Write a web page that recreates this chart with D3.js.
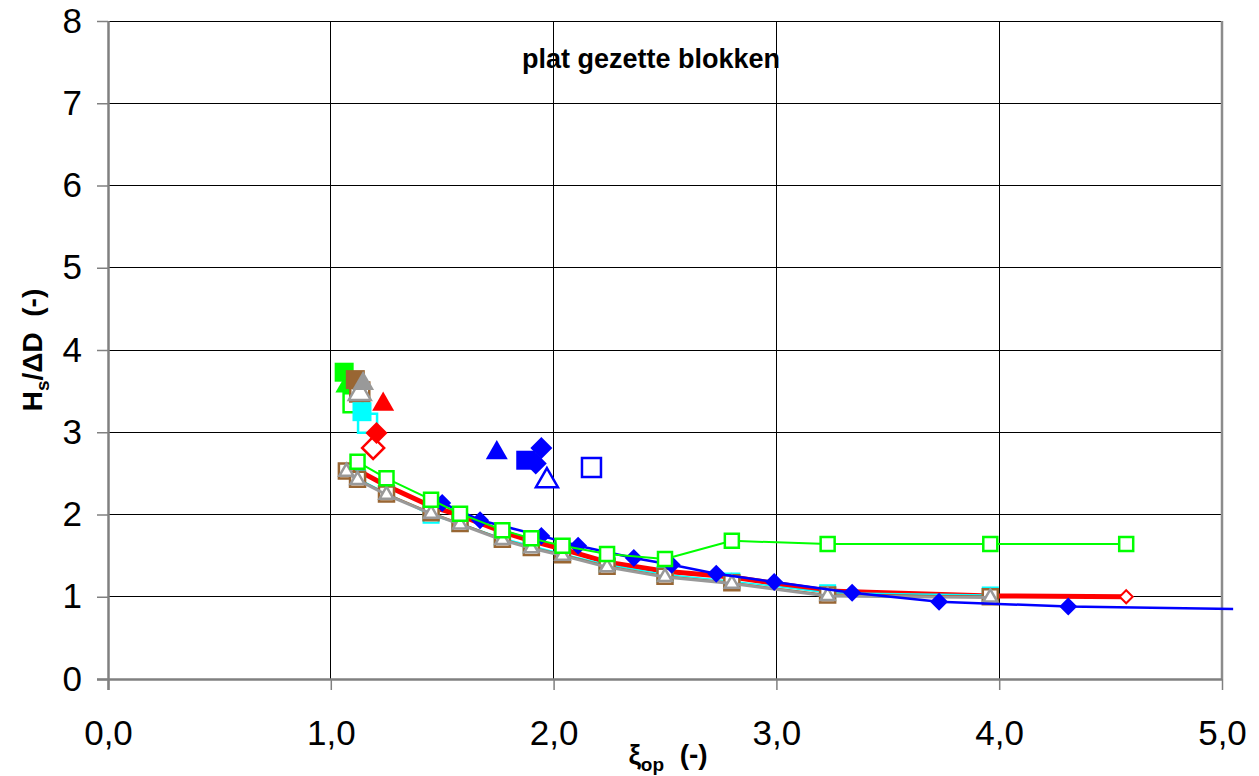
<!DOCTYPE html>
<html>
<head>
<meta charset="utf-8">
<script src="https://cdn.jsdelivr.net/npm/d3@7"></script>
<style>
  body { margin: 0; background: #fff; }
  svg { display: block; font-family: Arial, "Liberation Sans", sans-serif; }
</style>
</head>
<body>
<svg id="chart" width="1259" height="776"></svg>
<script>
// ---- data: xi_op (-) and Hs/ΔD (-) per test series ----
const xTicks = [0, 1, 2, 3, 4, 5];
const yTicks = [0, 1, 2, 3, 4, 5, 6, 7, 8];

const greenXi = [1.12, 1.25, 1.45, 1.58, 1.77, 1.90, 2.04, 2.24, 2.50, 2.80, 3.23, 3.96, 4.57];
const greenH  = [2.64, 2.44, 2.18, 2.01, 1.81, 1.71, 1.62, 1.52, 1.46, 1.68, 1.64, 1.64, 1.64];

const redXi = [1.12, 1.25, 1.45, 1.58, 1.77, 1.90, 2.04, 2.24, 2.50, 2.80, 3.23, 3.96, 4.57];
const redH  = [2.54, 2.35, 2.10, 1.99, 1.79, 1.68, 1.58, 1.42, 1.31, 1.24, 1.07, 1.01, 1.00];

const cyanXi = [1.12, 1.25, 1.45, 1.58, 1.77, 1.90, 2.04, 2.24, 2.50, 2.80, 3.23, 3.96];
const cyanH  = [2.44, 2.26, 1.99, 1.89, 1.71, 1.62, 1.52, 1.39, 1.27, 1.19, 1.05, 1.02];

const brownXi = [1.07, 1.12, 1.25, 1.45, 1.58, 1.77, 1.90, 2.04, 2.24, 2.50, 2.80, 3.23, 3.96];
const brownH  = [2.53, 2.43, 2.25, 2.02, 1.89, 1.70, 1.60, 1.51, 1.37, 1.25, 1.17, 1.02, 1.00];

const grayXi = [1.07, 1.12, 1.25, 1.45, 1.58, 1.77, 1.90, 2.04, 2.24, 2.50, 2.80, 3.23, 3.96];
const grayH  = [2.52, 2.42, 2.24, 2.01, 1.88, 1.69, 1.59, 1.50, 1.36, 1.24, 1.16, 1.01, 0.99];

const blueXi = [1.50, 1.67, 1.945, 2.11, 2.36, 2.53, 2.73, 2.99, 3.34, 3.73, 4.31, 5.60];
const blueH  = [2.14, 1.93, 1.74, 1.62, 1.47, 1.39, 1.28, 1.18, 1.05, 0.94, 0.88, 0.83];

// single damage points (open markers first, filled markers on top)
const singleXi = [1.07, 1.10, 1.06, 1.13, 1.13, 1.11, 1.145, 1.165, 1.14, 1.19, 1.205, 1.235, 1.92, 1.875, 1.945, 1.745, 1.97, 2.17];
const singleH  = [3.56, 3.36, 3.73, 3.49, 3.47, 3.64, 3.59, 3.11, 3.25, 2.81, 2.99, 3.34, 2.62, 2.66, 2.81, 2.75, 2.41, 2.57];

// ---- styles ----
const GREEN = "#00ff00", RED = "#ff0000", CYAN = "#00ffff",
      BROWN = "#996633", GRAY = "#999999", BLUE = "#0000ff";

const singleStyle = [
  { shape: "triangle", color: GREEN, filled: true },
  { shape: "square",   color: GREEN, filled: false },
  { shape: "square",   color: GREEN, filled: true },
  { shape: "square",   color: BROWN, filled: false },
  { shape: "triangle", color: GRAY,  filled: false },
  { shape: "square",   color: BROWN, filled: true },
  { shape: "triangle", color: GRAY,  filled: true },
  { shape: "square",   color: CYAN,  filled: false },
  { shape: "square",   color: CYAN,  filled: true },
  { shape: "diamond",  color: RED,   filled: false },
  { shape: "diamond",  color: RED,   filled: true },
  { shape: "triangle", color: RED,   filled: true },
  { shape: "diamond",  color: BLUE,  filled: true },
  { shape: "square",   color: BLUE,  filled: true },
  { shape: "diamond",  color: BLUE,  filled: true },
  { shape: "triangle", color: BLUE,  filled: true },
  { shape: "triangle", color: BLUE,  filled: false },
  { shape: "square",   color: BLUE,  filled: false }
];

// ---- layout ----
const svg = d3.select("#chart");
const W = 1259, H = 776;
const plot = { left: 108, right: 1222, top: 21, bottom: 679 };

svg.append("rect").attr("width", W).attr("height", H).attr("fill", "#fff");

const x = d3.scaleLinear().domain([0, 5]).range([plot.left, plot.right]);
const y = d3.scaleLinear().domain([0, 8]).range([plot.bottom, plot.top]);

// gridlines
const grid = svg.append("g");
grid.selectAll("line.h").data(yTicks.filter(v => v > 0)).join("line")
  .attr("x1", plot.left).attr("x2", plot.right)
  .attr("y1", d => y(d)).attr("y2", d => y(d))
  .attr("stroke", "#000").attr("stroke-width", 1).attr("shape-rendering", "crispEdges");
grid.selectAll("line.v").data(xTicks.filter(v => v > 0 && v < 5)).join("line")
  .attr("x1", d => x(d)).attr("x2", d => x(d))
  .attr("y1", plot.top).attr("y2", plot.bottom)
  .attr("stroke", "#000").attr("stroke-width", 1).attr("shape-rendering", "crispEdges");

// right border
svg.append("line")
  .attr("x1", plot.right).attr("x2", plot.right)
  .attr("y1", plot.top).attr("y2", plot.bottom)
  .attr("stroke", "#8c8c8c").attr("stroke-width", 2.5);

// axes
const fmtX = d => d3.format(".1f")(d).replace(".", ",");
const xAxis = d3.axisBottom(x).tickValues(xTicks).tickFormat(fmtX).tickSize(11).tickPadding(30);
const yAxis = d3.axisLeft(y).tickValues(yTicks).tickFormat(d3.format("d")).tickSize(11).tickPadding(15);

const gx = svg.append("g").attr("transform", `translate(0,${plot.bottom})`).call(xAxis);
const gy = svg.append("g").attr("transform", `translate(${plot.left},0)`).call(yAxis);
[gx, gy].forEach(g => {
  g.select(".domain").attr("stroke", "#808080").attr("stroke-width", 2.5);
  g.selectAll(".tick line").attr("stroke", "#808080").attr("stroke-width", 1.5);
  g.selectAll(".tick text").attr("fill", "#000").attr("font-size", 35)
    .attr("font-family", "Arial, 'Liberation Sans', sans-serif");
});
gx.select(".domain").attr("d", `M${plot.left - 11},0.5H${plot.right}`);
gy.select(".domain").attr("d", `M0.5,${plot.bottom + 11}V${plot.top}`);

// symbols
const sym = (shape, size) => {
  if (shape === "square") return d3.symbol(d3.symbolSquare, size * size)();
  if (shape === "triangle") return d3.symbol(d3.symbolTriangle, size * size * 0.433)();
  // diamond: square turned by 45 degrees, size = corner-to-corner width
  const h = size / 2;
  return `M0,${-h}L${h},0L0,${h}L${-h},0Z`;
};

const clipId = "plotclip";
svg.append("clipPath").attr("id", clipId).append("rect")
  .attr("x", plot.left - 30).attr("y", 0)
  .attr("width", x(5.05) - plot.left + 30).attr("height", plot.bottom + 20);

const data = svg.append("g").attr("clip-path", `url(#${clipId})`);
const line = d3.line().x(d => x(d[0])).y(d => y(d[1]));
const zip = (a, b) => a.map((v, i) => [v, b[i]]);

function series(xs, ys, opt) {
  const pts = zip(xs, ys);
  const g = data.append("g");
  g.append("path").datum(pts).attr("d", line)
    .attr("fill", "none").attr("stroke", opt.color).attr("stroke-width", opt.width)
    .attr("stroke-linejoin", "round");
  if (opt.shape) {
    g.selectAll("path.m").data(pts).join("path").attr("class", "m")
      .attr("transform", d => `translate(${x(d[0])},${y(d[1])})`)
      .attr("d", sym(opt.shape, opt.size))
      .attr("fill", opt.filled ? opt.color : "#fff")
      .attr("stroke", opt.color).attr("stroke-width", opt.filled ? 0 : opt.mstroke);
  }
  return g;
}

// red series: thick line, small triangles, open diamond at its last point
const redG = series(redXi, redH, { color: RED, width: 5 });
redG.selectAll("path.rm").data(zip(redXi, redH).slice(0, -1)).join("path")
  .attr("transform", d => `translate(${x(d[0])},${y(d[1])})`)
  .attr("d", sym("triangle", 8)).attr("fill", RED);
redG.selectAll("path.re").data(zip(redXi, redH).slice(-1)).join("path")
  .attr("transform", d => `translate(${x(d[0])},${y(d[1])})`)
  .attr("d", sym("diamond", 13)).attr("fill", "#fff").attr("stroke", RED).attr("stroke-width", 2);

series(cyanXi, cyanH, { color: CYAN, width: 1.5, shape: "square", size: 15, filled: false, mstroke: 2 });
series(brownXi, brownH, { color: BROWN, width: 2, shape: "square", size: 15, filled: false, mstroke: 2.5 });
series(grayXi, grayH, { color: GRAY, width: 3, shape: "triangle", size: 14, filled: false, mstroke: 2.5 });
series(blueXi, blueH, { color: BLUE, width: 2.5, shape: "diamond", size: 18, filled: true });
series(greenXi, greenH, { color: GREEN, width: 2, shape: "square", size: 14, filled: false, mstroke: 2.5 });

// single points
data.append("g").selectAll("path").data(d3.range(singleXi.length)).join("path")
  .attr("transform", i => `translate(${x(singleXi[i])},${y(singleH[i])})`)
  .attr("d", i => sym(singleStyle[i].shape, singleStyle[i].shape === "square" ? 19 : 22))
  .attr("fill", i => singleStyle[i].filled ? singleStyle[i].color : "#fff")
  .attr("stroke", i => singleStyle[i].color)
  .attr("stroke-width", i => singleStyle[i].filled ? 0 : 2.5);

// title and axis labels
svg.append("text").attr("x", 651).attr("y", 68).attr("text-anchor", "middle")
  .attr("font-size", 27).attr("font-weight", "bold").text("plat gezette blokken");

const yl = svg.append("text").attr("transform", "translate(42,350) rotate(-90)")
  .attr("text-anchor", "middle").attr("font-size", 28).attr("font-weight", "bold");
yl.append("tspan").text("H");
yl.append("tspan").attr("font-size", 19).attr("dy", 7).text("s");
yl.append("tspan").attr("dy", -7).text("/ΔD\u00a0\u00a0(-)");

const xl = svg.append("text").attr("x", 668).attr("y", 764)
  .attr("text-anchor", "middle").attr("font-size", 28).attr("font-weight", "bold");
xl.append("tspan").text("ξ");
xl.append("tspan").attr("font-size", 19).attr("dy", 7).text("op");
xl.append("tspan").attr("dy", -7).text("\u00a0\u00a0(-)");
</script>
</body>
</html>
